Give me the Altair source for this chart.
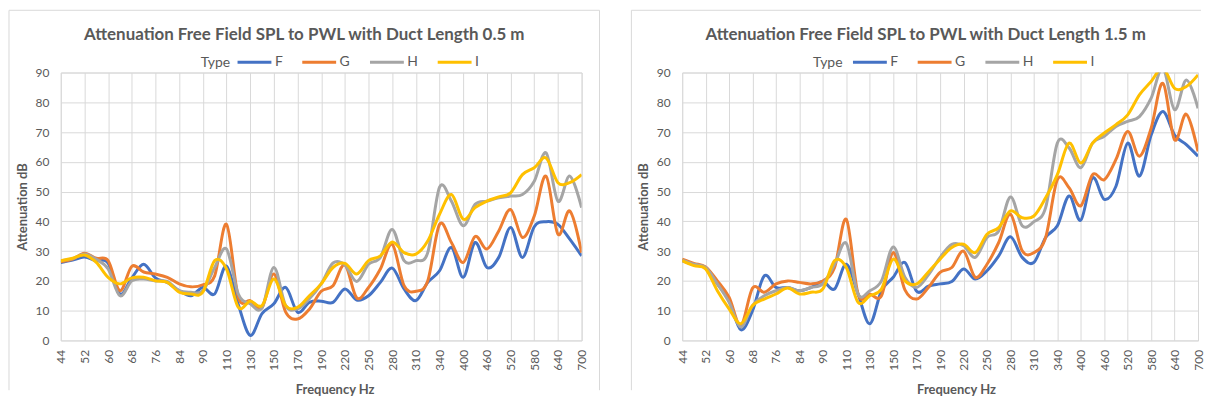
import altair as alt
import pandas as pd

# Category axis: 45 category slots, every second one labelled
freq_labels = ['44', '52', '60', '68', '76', '84', '90', '110', '130', '150', '170', '190',
               '220', '250', '280', '310', '340', '400', '460', '520', '580', '640', '700']
slots = list(range(45))
series_names = ["F", "G", "H", "I"]
series_colors = ["#4472C4", "#ED7D31", "#A5A5A5", "#FFC000"]

# Duct length 0.5 m
f_05 = [26.2, 27, 28, 26.7, 26, 15.6, 21, 25.6, 21, 19.5, 16.7, 15, 17.8, 15.6, 25, 12, 1.7, 9, 12.3,
        17.8, 9.5, 12.8, 13.2, 12.8, 17.3, 13.6, 15, 19.5, 24.3, 17.3, 13.4, 19.5, 23.4, 31.2, 21.2,
        32.9, 24.5, 27.9, 37.9, 27.9, 38.2, 39.9, 39, 34, 28.4]
g_05 = [26.4, 27.3, 29.3, 27.6, 26.8, 16.7, 24.9, 23, 22.3, 21.2, 19, 18, 18.7, 21.7, 39, 14.5, 13.4,
        11, 22.3, 9.5, 7.2, 10.5, 16.5, 18.4, 25.4, 14.3, 17.8, 24, 32.3, 18.4, 16.5, 20, 39, 32.9,
        26.2, 34.9, 30.7, 36.8, 44, 34.6, 41.8, 55.2, 35.7, 43.5, 29.5]
h_05 = [26.8, 27.5, 29, 27.3, 24, 15, 20, 20.6, 20, 19.8, 16.7, 16.2, 16.7, 24.5, 30.7, 15.6, 12.3,
        10.9, 24.5, 11.7, 10.6, 14, 19, 26, 25.4, 19.8, 25.6, 27.9, 37.3, 26.8, 26.8, 29.5, 51.5,
        46.8, 38.5, 45.7, 46.8, 47.9, 48.5, 49, 53.5, 63, 46.8, 55.2, 44.6]
i_05 = [26.8, 27.6, 28.7, 26.2, 21.2, 19, 21, 21.2, 20, 19.5, 16.2, 15.6, 16.2, 26.8, 24, 11.1, 13.2,
        11.7, 20.6, 11.7, 11.1, 15, 19, 24.5, 25.9, 22.3, 26.8, 28.4, 33.1, 29.5, 29, 33.4, 42.4, 49,
        40.7, 44.6, 46.8, 48.2, 49.6, 55.7, 58, 61.3, 53, 53, 55.7]

# Duct length 1.5 m
f_15 = [26.8, 25.4, 24.3, 19, 13.4, 3.6, 10, 21.7, 17.8, 17.8, 16.7, 17.8, 19.8, 17.3, 25.6, 15.6,
        5.6, 16.7, 21.2, 26.2, 16.5, 18.2, 19, 19.8, 24, 20.6, 23.4, 28.4, 34.8, 27.9, 26.2, 34.6,
        38.5, 48.5, 40.4, 54.6, 47.4, 51.8, 66.3, 55.2, 69, 76.9, 69, 65.8, 61.9]
g_15 = [27.3, 25.9, 24.7, 20, 14.5, 5, 17.6, 16.2, 19, 20, 19.5, 19, 20, 24.5, 40.7, 15.6, 15.6, 15,
        29.5, 17, 13.9, 17.8, 22.9, 24.5, 30, 21.2, 25.6, 32.9, 42.4, 30.1, 29.5, 34.6, 54, 51.3,
        45.2, 55.7, 54, 60.8, 70.2, 61.9, 71.3, 86.4, 67.4, 76, 63.5]
h_15 = [27, 25.6, 24.5, 19, 12.8, 4.5, 11.7, 15, 16.7, 17.8, 16.7, 17.8, 19, 25.6, 32.6, 15.6, 16.7,
        20, 31.4, 21.2, 17.8, 22, 27.9, 32.3, 31.8, 27.9, 34.6, 36.8, 48.2, 38.5, 39.9, 44.6, 66.3,
        64.7, 58, 66.3, 68.6, 71.9, 73.6, 75.2, 81.4, 91.5, 77.5, 87.5, 78]
i_15 = [26.8, 25.1, 24, 16.7, 10.6, 5.6, 11.7, 13.9, 15.6, 17.6, 15.6, 16.2, 17.3, 26.8, 24.5, 12.8,
        15, 17.3, 27.3, 20, 19, 23, 27.3, 31.2, 32.3, 29.5, 35.7, 37.9, 43.5, 41.2, 41.8, 47.9, 55.7,
        66.3, 59.6, 66.3, 69.7, 72.5, 75.8, 82.5, 87, 91.5, 84.7, 85.3, 89.2]

titles = ["Attenuation Free Field SPL to PWL with Duct Length 0.5 m",
          "Attenuation Free Field SPL to PWL with Duct Length 1.5 m"]
legend_title = "Type"

GREY = "#595959"
GRID = "#d9d9d9"
FONT = "Lato"
H = 269


def long_df(series):
    rows = []
    for name, arr in zip(series_names, series):
        for s, v in zip(slots, arr):
            rows.append({"slot": s, "value": v, "Type": name})
    return pd.DataFrame(rows)


label_js = "[" + ",".join(f"'{l}'" for l in freq_labels) + "]"


def panel(df, title, W, legend_x, type_x, left_edge, right_edge, draw_right):
    one = alt.Data(values=[{"a": 1}])
    x = alt.X("slot:Q", scale=alt.Scale(domain=[0, 44], nice=False, zero=False),
              axis=alt.Axis(values=list(range(0, 45, 2)),
                            labelExpr=f"{label_js}[round(datum.value/2)]",
                            labelAngle=270, ticks=False, domain=False, labelPadding=9,
                            title="Frequency Hz", titleX=275, titlePadding=13))
    y = alt.Y("value:Q", scale=alt.Scale(domain=[0, 90], nice=False, zero=True),
              axis=alt.Axis(values=list(range(0, 91, 10)), ticks=False, domain=False,
                            labelPadding=12, title="Attenuation dB", titlePadding=6))
    color = alt.Color("Type:N", scale=alt.Scale(domain=series_names, range=series_colors),
                      legend=alt.Legend(orient="none", legendX=legend_x, legendY=-29,
                                        direction="horizontal", title=None,
                                        symbolType="stroke", symbolSize=1156, symbolStrokeWidth=3,
                                        labelOffset=2, columnPadding=13,
                                        labelFont=FONT, labelFontSize=14, labelColor=GREY))
    lines = alt.Chart(df).mark_line(interpolate="cardinal", strokeWidth=3, clip=True).encode(
        x=x, y=y, color=color)
    ttl = alt.Chart(one).mark_text(text=title, font=FONT, fontSize=17, fontWeight="bold",
                                   color=GREY, align="center", baseline="middle").encode(
        x=alt.value(244.5), y=alt.value(-38))
    type_txt = alt.Chart(one).mark_text(text=legend_title, font=FONT, fontSize=14,
                                        color=GREY, align="right", baseline="middle").encode(
        x=alt.value(type_x), y=alt.value(-10))
    border_left = alt.Chart(one).mark_rule(color=GRID, strokeWidth=1).encode(
        x=alt.value(left_edge), y=alt.value(-62.5), y2=alt.value(H + 50))
    border_top = alt.Chart(one).mark_rule(color=GRID, strokeWidth=1).encode(
        x=alt.value(left_edge), x2=alt.value(right_edge), y=alt.value(-62.5))
    layers = [border_left, border_top, lines, ttl, type_txt]
    if draw_right:
        border_right = alt.Chart(one).mark_rule(color=GRID, strokeWidth=1).encode(
            x=alt.value(right_edge), y=alt.value(-62.5), y2=alt.value(H + 50))
        layers.insert(0, border_right)
    return alt.layer(*layers).properties(width=W, height=H)


left = panel(long_df([f_05, g_05, h_05, i_05]), titles[0], 523, 176, 170, -52, 541, True)
right = panel(long_df([f_15, g_15, h_15, i_15]), titles[1], 518, 170, 161, -51, 521, False)

chart = alt.hconcat(left, right, spacing=30).resolve_scale(color="independent").properties(
    padding=0, background="white"
).configure_view(stroke=GRID, strokeWidth=1).configure_axis(
    gridColor=GRID, gridWidth=1, labelFont=FONT, labelFontSize=12, labelColor=GREY,
    titleFont=FONT, titleFontSize=13, titleColor=GREY, titleFontWeight="bold")

chart.save("out.html", embed_options={"renderer": "svg", "actions": False})
